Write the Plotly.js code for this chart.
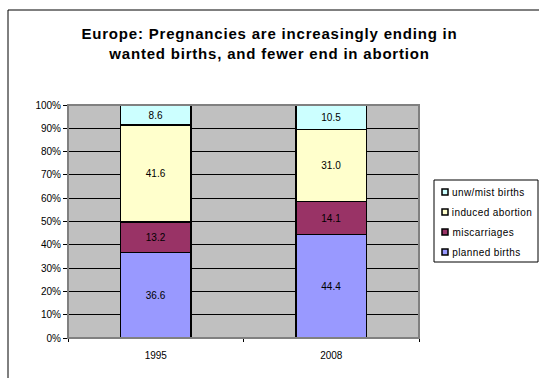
<!DOCTYPE html>
<html>
<head>
<meta charset="utf-8">
<script src="https://cdn.plot.ly/plotly-3.0.1.min.js"></script>
<style>
  html, body { margin: 0; padding: 0; background: #fff; }
  #chart { width: 539px; height: 378px; }
  #chart .gtitle { letter-spacing: 0.8px; }
  #chart .annotation-text.legend-label { letter-spacing: 0.4px; }
</style>
</head>
<body>
<div id="chart"></div>
<script>
// Share of pregnancy outcomes in Europe (%), per year
const years = ['1995', '2008'];
const plannedBirths = [36.6, 44.4];
const miscarriages = [13.2, 14.1];
const inducedAbortion = [41.6, 31.0];
const unwMistBirths = [8.6, 10.5];

const seriesNames = ['planned births', 'miscarriages', 'induced abortion', 'unw/mist births'];
const seriesValues = [plannedBirths, miscarriages, inducedAbortion, unwMistBirths];
const seriesColors = ['#9999FF', '#993366', '#FFFFCC', '#CCFFFF'];

const FONT = '"Liberation Sans", Arial, sans-serif';

// stacked bars, labelled with their own values
const traces = seriesNames.map((name, i) => ({
  type: 'bar',
  name: name,
  x: years,
  y: seriesValues[i],
  text: seriesValues[i].map(v => v.toFixed(1)),
  texttemplate: '%{text}',
  textposition: 'inside',
  insidetextanchor: 'middle',
  textangle: 0,
  textfont: { family: FONT, size: 10, color: '#000' },
  marker: { color: seriesColors[i], line: { color: '#000', width: 1.5 } },
  hoverinfo: 'skip'
}));

// plot area spans x 68..419 px, y 105..338 px
const L = 68, R = 419, T = 105, B = 338;
const pw = R - L, ph = B - T;
const px = v => (v - L) / pw;
const py = v => (B - v) / ph;

// key box to the right of the plot: top series listed first
const keyBox = { x0: 434, x1: 538, y0: 180, y1: 262 };
const keyRows = [192, 212, 232, 252];
const keyShapes = [];
const keyLabels = [];
seriesNames.slice().reverse().forEach((name, k) => {
  const i = seriesNames.length - 1 - k;
  const cy = keyRows[k];
  keyShapes.push({
    type: 'rect', xref: 'paper', yref: 'paper',
    x0: px(442), x1: px(448), y0: py(cy + 3), y1: py(cy - 3),
    fillcolor: seriesColors[i], line: { color: '#000', width: 1.5 }, layer: 'above'
  });
  keyLabels.push({
    xref: 'paper', yref: 'paper', x: px(453), y: py(cy),
    xanchor: 'left', yanchor: 'middle', showarrow: false,
    text: name, font: { family: FONT, size: 10, color: '#000' }
  });
});

const layout = {
  width: 539,
  height: 378,
  margin: { l: L, r: 539 - R, t: T, b: 378 - B, pad: 0, autoexpand: false },
  paper_bgcolor: '#ffffff',
  plot_bgcolor: '#C0C0C0',
  font: { family: FONT, size: 10, color: '#000' },
  barmode: 'stack',
  bargap: 0.6,
  showlegend: false,
  title: {
    text: 'Europe: Pregnancies are increasingly ending in<br>wanted births, and fewer end in abortion',
    font: { family: FONT, size: 15, color: '#000', weight: 'bold' },
    xref: 'container', x: 0.5, xanchor: 'center',
    yref: 'container', y: 1 - 39 / 378, yanchor: 'top'
  },
  xaxis: {
    type: 'category',
    tickson: 'boundaries',
    ticks: 'outside', ticklen: 3, tickcolor: '#000', tickwidth: 1,
    ticklabelstandoff: 8,
    showline: true, linecolor: '#000', linewidth: 1,
    showgrid: false, zeroline: false,
    tickfont: { family: FONT, size: 10, color: '#000' },
    fixedrange: true
  },
  yaxis: {
    range: [0, 100],
    dtick: 10,
    ticksuffix: '%',
    ticks: 'outside', ticklen: 4, tickcolor: '#000', tickwidth: 1,
    showline: true, linecolor: '#000', linewidth: 1,
    showgrid: true, gridcolor: '#000', gridwidth: 1,
    zeroline: false,
    tickfont: { family: FONT, size: 10, color: '#000' },
    fixedrange: true
  },
  annotations: keyLabels,
  shapes: [
    // plot area frame (top / right edges)
    { type: 'rect', xref: 'paper', yref: 'paper', x0: 0, x1: 1, y0: 0, y1: 1,
      line: { color: '#808080', width: 2 }, layer: 'above' },
    // outer chart border
    { type: 'rect', xref: 'paper', yref: 'paper',
      x0: px(8), x1: px(560), y0: py(400), y1: py(10),
      line: { color: '#000', width: 1 }, layer: 'above' },
    // key box
    { type: 'rect', xref: 'paper', yref: 'paper',
      x0: px(keyBox.x0), x1: px(keyBox.x1), y0: py(keyBox.y1), y1: py(keyBox.y0),
      fillcolor: '#ffffff', line: { color: '#000', width: 1 }, layer: 'below' }
  ].concat(keyShapes)
};

Plotly.newPlot('chart', traces, layout, { staticPlot: true, displayModeBar: false }).then(() => {
  document.querySelectorAll('#chart .annotation-text').forEach(t => t.classList.add('legend-label'));
});
</script>
</body>
</html>
